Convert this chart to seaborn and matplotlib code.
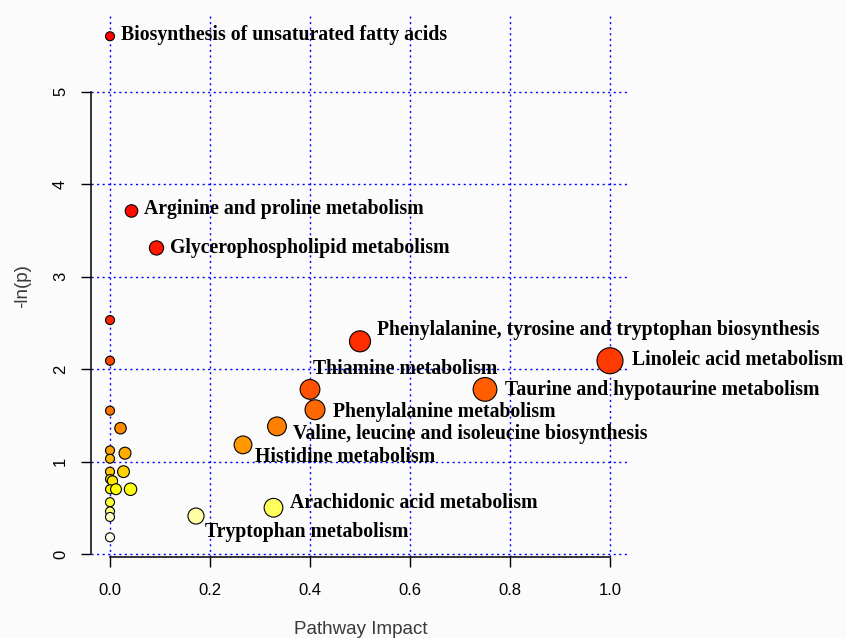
import colorsys
import numpy as np
import pandas as pd
import matplotlib
matplotlib.use("Agg")
import matplotlib.pyplot as plt
import seaborn as sns

# ---- data ----
pathway = [
    "Biosynthesis of unsaturated fatty acids", "Arginine and proline metabolism",
    "Glycerophospholipid metabolism", "", "Phenylalanine, tyrosine and tryptophan biosynthesis",
    "Linoleic acid metabolism", "", "Thiamine metabolism", "Taurine and hypotaurine metabolism",
    "Phenylalanine metabolism", "", "Valine, leucine and isoleucine biosynthesis", "",
    "Histidine metabolism", "", "", "", "", "", "", "", "", "", "", "",
    "Arachidonic acid metabolism", "", "Tryptophan metabolism", "", "",
]
impact = [0.0, 0.043, 0.093, 0.0, 0.50, 1.00, 0.0, 0.40, 0.75, 0.41, 0.0, 0.334, 0.021,
          0.266, 0.0, 0.030, 0.0, 0.0, 0.027, 0.0, 0.005, 0.0, 0.012, 0.041, 0.0, 0.327,
          0.0, 0.172, 0.0, 0.0]
neg_ln_p = [5.60, 3.71, 3.31, 2.53, 2.30, 2.09, 2.09, 1.78, 1.78, 1.56, 1.55, 1.38, 1.36,
            1.18, 1.12, 1.09, 1.03, 0.89, 0.89, 0.81, 0.79, 0.70, 0.70, 0.70, 0.56, 0.50,
            0.46, 0.41, 0.40, 0.18]

x_ticks = [0.0, 0.2, 0.4, 0.6, 0.8, 1.0]
y_ticks = [0, 1, 2, 3, 4, 5]
x_label = "Pathway Impact"
y_label = "-ln(p)"

# label offsets (pixels) from each labelled point
label_offsets = {
    "Biosynthesis of unsaturated fatty acids": (11, 1),
    "Arginine and proline metabolism": (12, 2),
    "Glycerophospholipid metabolism": (13, 0),
    "Phenylalanine, tyrosine and tryptophan biosynthesis": (17, 11),
    "Linoleic acid metabolism": (22, 1),
    "Taurine and hypotaurine metabolism": (20, -1),
    "Thiamine metabolism": (3, 20),
    "Phenylalanine metabolism": (18, -2),
    "Valine, leucine and isoleucine biosynthesis": (16, -8),
    "Histidine metabolism": (12, -12),
    "Arachidonic acid metabolism": (16, 5),
    "Tryptophan metabolism": (9, -16),
}

df = pd.DataFrame({"pathway": pathway, "impact": impact, "neg_ln_p": neg_ln_p})
df["rank"] = df["neg_ln_p"].rank(ascending=False, method="first").astype(int) - 1


def heat_colors(n):
    j = n // 4
    i = n - j
    cols = [colorsys.hsv_to_rgb(h, 1, 1) for h in np.linspace(0, 1 / 6, i)]
    if j > 0:
        cols += [colorsys.hsv_to_rgb(1 / 6, s, 1)
                 for s in np.linspace(1 - 1 / (2 * j), 1 / (2 * j), j)]
    return cols


heat = heat_colors(len(df))
palette = {k: heat[k] for k in range(len(df))}

# marker radius in px grows with impact
radius_px = 4.5 + 8.5 * np.sqrt(df["impact"].to_numpy())
marker_area = (2 * radius_px * 0.72) ** 2

W, H = 846, 638
fig = plt.figure(figsize=(W / 100, H / 100), dpi=100, facecolor="#fbfbfb")
L, R, T, B = 91, 630, 15, 557
ax = fig.add_axes([L / W, (H - B) / H, (R - L) / W, (B - T) / H])
ax.set_facecolor("#fbfbfb")

sns.scatterplot(data=df, x="impact", y="neg_ln_p", hue="rank", palette=palette,
                s=marker_area, edgecolor="black", linewidth=0.8, legend=False,
                ax=ax, zorder=3)

ax.set_xlim(-0.038, 1.04)
ax.set_ylim(-0.033, 5.83)
ax.set_xticks(x_ticks)
ax.set_yticks(y_ticks)
ax.set_xticklabels([f"{v:.1f}" for v in x_ticks], fontfamily="Liberation Sans", fontsize=12)
ax.set_yticklabels([str(v) for v in y_ticks], fontfamily="Liberation Sans", fontsize=12,
                   rotation=90, va="center")
ax.set_xlabel("")
ax.set_ylabel("")

ax.grid(True, color="blue", linestyle=(0, (1.5, 2.5)), linewidth=1.0)
ax.set_axisbelow(True)

for side in ["top", "right"]:
    ax.spines[side].set_visible(False)
ax.spines["left"].set_bounds(0, 5)
ax.spines["bottom"].set_bounds(0, 1)
for side in ["left", "bottom"]:
    ax.spines[side].set_linewidth(1.1)
    ax.spines[side].set_color("black")
ax.tick_params(axis="x", length=7.5, width=1.0, pad=11.5, colors="black")
ax.tick_params(axis="y", length=7.5, width=1.0, pad=9, colors="black")

for _, row in df.iterrows():
    if row["pathway"]:
        dx, dy = label_offsets[row["pathway"]]
        ax.annotate(row["pathway"], xy=(row["impact"], row["neg_ln_p"]),
                    xytext=(dx, dy), textcoords="offset pixels",
                    ha="left", va="center", fontfamily="Liberation Serif",
                    fontweight="bold", fontsize=14.2, color="black",
                    annotation_clip=False, zorder=4)

fig.text(361 / W, 1 - 629 / H, x_label, ha="center", va="center",
         fontfamily="Liberation Sans", fontsize=13.5, color="#3a3a3a")
fig.text(23 / W, 1 - 286 / H, y_label, ha="center", va="center", rotation=90,
         fontfamily="Liberation Sans", fontsize=13.5, color="#3a3a3a")

fig.savefig("out.png", dpi=100, facecolor=fig.get_facecolor())
